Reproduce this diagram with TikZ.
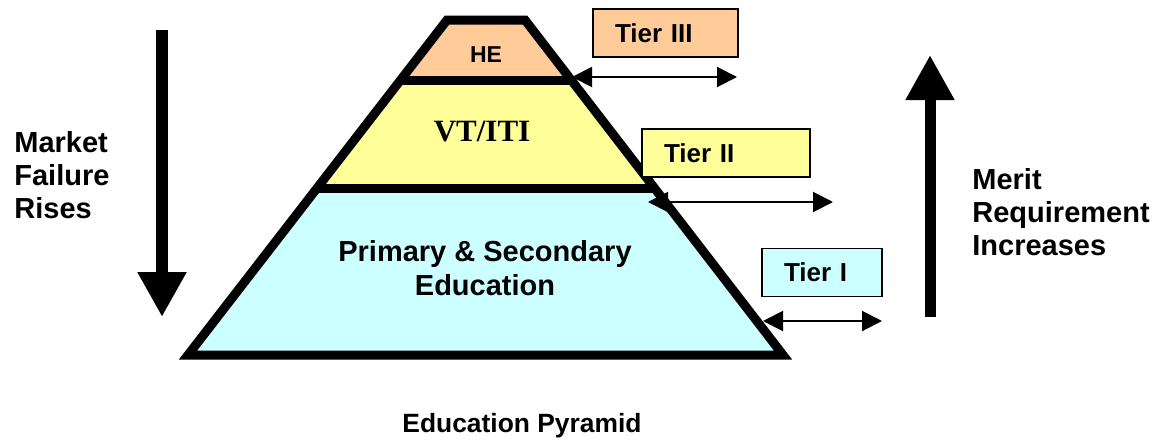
\documentclass[tikz,border=0pt]{standalone}
\usepackage{fontspec}
\setmainfont{Liberation Sans}
\newfontfamily\serifbf{Liberation Serif}
\usetikzlibrary{arrows.meta, calc}
\definecolor{cpeach}{HTML}{FFCC99}
\definecolor{cyellow}{HTML}{FFFF99}
\definecolor{ccyan}{HTML}{CCFFFF}
\tikzset{
  every picture/.style={font=\bfseries},
  tier/.style={draw=black, fill=#1, line width=0.8pt, minimum height=24pt, inner xsep=11pt, align=left, font=\fontsize{13}{15}\selectfont\bfseries},
  span/.style={{Triangle[length=10pt,width=10pt]}-{Triangle[length=10pt,width=10pt]}, line width=1pt},
  trend/.style={-{Triangle[length=22.5pt,width=23pt]}, line width=6pt},
  side/.style={font=\fontsize{14.5}{16.5}\selectfont\bfseries, align=left, inner sep=0pt, anchor=north west},
  layer/.style={font=\fontsize{14.5}{17}\selectfont\bfseries, align=center, inner sep=0pt},
}

\begin{document}
\begin{tikzpicture}[x=0.5pt, y=-0.5pt]
  \useasboundingbox (0,0) rectangle (1171,439);
  % pyramid corners and layer boundaries
  \coordinate (tl) at (447,20);
  \coordinate (tr) at (525,20);
  \coordinate (bl) at (188,355);
  \coordinate (br) at (783,355);
  \coordinate (ml) at ($(tl)!0.182!(bl)$);
  \coordinate (mr) at ($(tr)!0.182!(br)$);
  \coordinate (ll) at ($(tl)!0.504!(bl)$);
  \coordinate (lr) at ($(tr)!0.504!(br)$);
  \fill[cpeach] (tl) -- (tr) -- (mr) -- (ml) -- cycle;
  \fill[cyellow] (ml) -- (mr) -- (lr) -- (ll) -- cycle;
  \fill[ccyan] (ll) -- (lr) -- (br) -- (bl) -- cycle;
  \draw[line width=4.5pt] (tl) -- (tr) -- (br) -- (bl) -- cycle;
  \draw[line width=4.5pt] (ml) -- (mr) (ll) -- (lr);

  % layer labels
  \node (he) at (486,55) {\fontsize{11.5}{13}\selectfont HE};
  \node (vt) at (482,132) {\fontsize{15.5}{17}\selectfont\serifbf VT/ITI};
  \node[layer, anchor=north] (prim) at (485,240) {Primary \& Secondary\\Education};
  \node[anchor=base, font=\fontsize{13.2}{15}\selectfont\bfseries] (title) at (522,432) {Education Pyramid};

  % tiers
  \node[tier=cpeach, text width=50.5pt] (t3) at (665.5,33) {Tier III};
  \node[tier=cyellow, text width=62pt] (t2) at (726,153) {Tier II};
  \node[tier=ccyan, text width=38pt] (t1) at (822,272.5) {Tier I};
  \coordinate (s3a) at (572,77);  \coordinate (s3b) at (737,77);
  \coordinate (s2a) at (648,202); \coordinate (s2b) at (833,202);
  \coordinate (s1a) at (763,321); \coordinate (s1b) at (882,321);
  \draw[span] (s3a) -- (s3b);
  \draw[span] (s2a) -- (s2b);
  \draw[span] (s1a) -- (s1b);

  % trends on both sides
  \coordinate (mfTop) at (162,30);  \coordinate (mfTip) at (162,317);
  \coordinate (mrBot) at (930,317); \coordinate (mrTip) at (930,55);
  \draw[trend] (mfTop) -- (mfTip);
  \draw[trend, line width=5.5pt] (mrBot) -- (mrTip);
  \node[side] (market) at (14,131) {Market\\Failure\\Rises};
  \node[side] (merit) at (972,168) {Merit\\Requirement\\Increases};
\end{tikzpicture}
\end{document}
